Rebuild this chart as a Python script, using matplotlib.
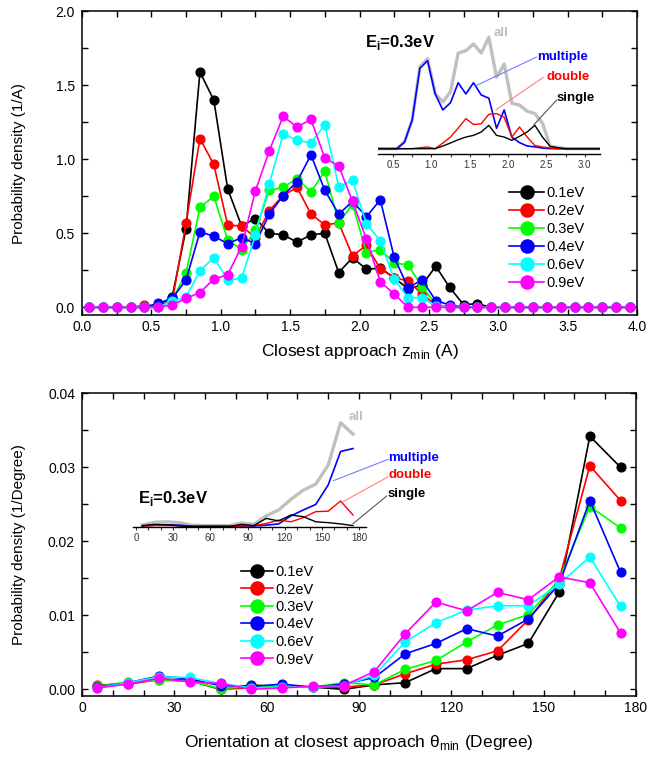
import numpy as np
import matplotlib
matplotlib.use("Agg")
import matplotlib.pyplot as plt
from matplotlib.ticker import MultipleLocator, FormatStrFormatter

plt.rcParams['font.family'] = ['Liberation Sans', 'DejaVu Sans']
plt.rcParams['mathtext.fontset'] = 'custom'
plt.rcParams['mathtext.rm'] = 'Liberation Sans'

W, H = 648, 760

# ---------------- data: top panel (closest approach) ----------------
z_bins = [0.05, 0.15, 0.25, 0.35, 0.45, 0.55, 0.65, 0.75, 0.85, 0.95,
          1.05, 1.15, 1.25, 1.35, 1.45, 1.55, 1.65, 1.75, 1.85, 1.95,
          2.05, 2.15, 2.25, 2.35, 2.45, 2.55, 2.65, 2.75, 2.85, 2.95,
          3.05, 3.15, 3.25, 3.35, 3.45, 3.55, 3.65, 3.75, 3.85, 3.95]
energies = ['0.1eV', '0.2eV', '0.3eV', '0.4eV', '0.6eV', '0.9eV']
colors = ['#000000', '#ff0000', '#00ff00', '#0000ff', '#00ffff', '#ff00ff']

z_01 = [0, 0, 0, 0, 0, 0.01, 0.07, 0.53, 1.59, 1.40, 0.80, 0.55, 0.60, 0.50, 0.49, 0.44, 0.49, 0.50, 0.235, 0.335,
        0.257, 0.265, 0.20, 0.125, 0.15, 0.277, 0.134, 0.018, 0.024, 0, 0, 0, 0, 0, 0, 0, 0, 0, 0, 0]
z_02 = [0, 0, 0, 0, 0.014, 0.01, 0.04, 0.57, 1.14, 0.965, 0.555, 0.55, 0.47, 0.654, 0.755, 0.81, 0.63, 0.557, 0.57, 0.347,
        0.42, 0.26, 0.20, 0.178, 0.09, 0.015, 0, 0, 0, 0, 0, 0, 0, 0, 0, 0, 0, 0, 0, 0]
z_03 = [0, 0, 0, 0, 0, 0, 0.05, 0.23, 0.675, 0.75, 0.455, 0.39, 0.52, 0.79, 0.81, 0.87, 0.78, 0.92, 0.57, 0.695,
        0.37, 0.39, 0.30, 0.286, 0.14, 0.02, 0, 0, 0, 0, 0, 0, 0, 0, 0, 0, 0, 0, 0, 0]
z_04 = [0, 0, 0, 0, 0, 0.027, 0.06, 0.185, 0.51, 0.48, 0.43, 0.47, 0.43, 0.63, 0.755, 0.85, 1.03, 0.79, 0.63, 0.715,
        0.613, 0.726, 0.338, 0.133, 0.185, 0.045, 0.016, 0, 0, 0, 0, 0, 0, 0, 0, 0, 0, 0, 0, 0]
z_06 = [0, 0, 0, 0, 0, 0, 0.04, 0.07, 0.246, 0.336, 0.185, 0.196, 0.49, 0.835, 1.17, 1.13, 1.11, 1.234, 0.816, 0.857,
        0.564, 0.45, 0.19, 0.065, 0.065, 0.01, 0, 0, 0, 0, 0, 0, 0, 0, 0, 0, 0, 0, 0, 0]
z_09 = [0, 0, 0, 0, 0, 0, 0.016, 0.06, 0.10, 0.19, 0.22, 0.41, 0.787, 1.058, 1.29, 1.218, 1.27, 1.008, 0.956, 0.715,
        0.46, 0.173, 0.09, 0, 0, 0, 0, 0, 0, 0, 0, 0, 0, 0, 0, 0, 0, 0, 0, 0]

# inset (Ei = 0.3 eV) decomposition
zi_all = [0, 0, 0, 0, 0, 0, 0.055, 0.237, 0.675, 0.745, 0.455, 0.386, 0.47, 0.79, 0.81, 0.865, 0.79, 0.92, 0.59, 0.70,
          0.375, 0.36, 0.31, 0.29, 0.21, 0.02, 0.01, 0, 0, 0, 0, 0, 0, 0, 0, 0, 0, 0, 0, 0]
zi_multiple = [0, 0, 0, 0, 0, 0, 0.055, 0.237, 0.664, 0.727, 0.452, 0.32, 0.38, 0.545, 0.452, 0.545, 0.444, 0.417, 0.168, 0.32,
               0.094, 0.05, 0.022, 0.015, 0.005, 0, 0, 0, 0, 0, 0, 0, 0, 0, 0, 0, 0, 0, 0, 0]
zi_double = [0, 0, 0, 0, 0, 0, 0, 0, 0.008, 0.014, 0, 0.047, 0.096, 0.17, 0.248, 0.20, 0.206, 0.284, 0.29, 0.26,
             0.096, 0.179, 0.096, 0.027, 0.014, 0.005, 0, 0, 0, 0, 0, 0, 0, 0, 0, 0, 0, 0, 0, 0]
zi_single = [0, 0, 0, 0, 0, 0, 0, 0, 0, 0, 0, 0.022, 0.047, 0.074, 0.096, 0.11, 0.138, 0.193, 0.11, 0.096,
             0.069, 0.102, 0.138, 0.193, 0.096, 0.019, 0.008, 0, 0, 0, 0, 0, 0, 0, 0, 0, 0, 0, 0, 0]

# ---------------- data: bottom panel (orientation) ----------------
theta_bins = [5, 15, 25, 35, 45, 55, 65, 75, 85, 95, 105, 115, 125, 135, 145, 155, 165, 175]
t_01 = [0.0005, 0.0008, 0.0014, 0.0012, 0.0, 0.0006, 0.0003, 0.0003, 0.0, 0.0006, 0.0009, 0.0028, 0.0028, 0.0046, 0.0062, 0.0131, 0.0342, 0.0300]
t_02 = [0.0006, 0.0007, 0.0013, 0.0012, 0.0, 0.0002, 0.0003, 0.0003, 0.0003, 0.0006, 0.0021, 0.0034, 0.0040, 0.0052, 0.0094, 0.0148, 0.0302, 0.0255]
t_03 = [0.0004, 0.0010, 0.0012, 0.0011, 0.0001, 0.0004, 0.0003, 0.0003, 0.0009, 0.0006, 0.0027, 0.0039, 0.0064, 0.0087, 0.0101, 0.0148, 0.0247, 0.0218]
t_04 = [0.0003, 0.0009, 0.0018, 0.0014, 0.0005, 0.0004, 0.0007, 0.0003, 0.0007, 0.0016, 0.0048, 0.0062, 0.0082, 0.0072, 0.0095, 0.0142, 0.0255, 0.0158]
t_06 = [0.0002, 0.0009, 0.0017, 0.0016, 0.0008, 0.0002, 0.0003, 0.0003, 0.0005, 0.0019, 0.0064, 0.0090, 0.0107, 0.0113, 0.0113, 0.0142, 0.0179, 0.0112]
t_09 = [0.0002, 0.0007, 0.0015, 0.0010, 0.0008, 0.0, 0.0002, 0.0004, 0.0005, 0.0024, 0.0075, 0.0118, 0.0106, 0.0131, 0.0121, 0.0152, 0.0144, 0.0076]

ti_all = [0.00055, 0.0012, 0.0013, 0.0011, 0.0005, 0.0004, 0.0004, 0.0004, 0.0010, 0.0007, 0.0027, 0.0041, 0.0066, 0.0088, 0.0102, 0.0147, 0.0247, 0.0220]
ti_multiple = [0.0003, 0.0005, 0.0006, 0.0005, 0.0003, 0.0003, 0.0003, 0.0003, 0.0003, 0.0003, 0.0005, 0.0008, 0.0027, 0.0041, 0.0054, 0.0100, 0.0179, 0.0186]
ti_double = [0.0003, 0.0004, 0.0004, 0.0004, 0.0002, 0.0002, 0.0002, 0.0002, 0.0003, 0.0004, 0.0009, 0.0017, 0.0013, 0.0023, 0.0037, 0.0038, 0.0062, 0.0029]
ti_single = [0.0004, 0.0007, 0.0006, 0.0003, 0.00015, 0.00015, 0.00015, 0.00015, 0.0007, 0.0004, 0.0021, 0.0015, 0.0029, 0.0025, 0.0013, 0.0011, 0.0008, 0.0004]


def fx(px):
    return px / W


def fy(py):
    return 1 - py / H


fig = plt.figure(figsize=(W / 100, H / 100), dpi=100)


def style_main(ax):
    ax.tick_params(which='both', direction='in', top=True, right=True,
                   length=4, width=1.0, labelsize=10)
    ax.tick_params(axis='y', pad=5)
    for s in ax.spines.values():
        s.set_linewidth(1.1)


def style_inset(ax):
    ax.set_facecolor('none')
    for k in ('left', 'right', 'top'):
        ax.spines[k].set_visible(False)
    ax.spines['bottom'].set_linewidth(1.0)
    ax.set_yticks([])
    ax.tick_params(which='both', direction='out', length=2.5, width=0.8,
                   labelsize=7, colors='#333333', pad=1.5)


# ================= TOP PANEL =================
L1, R1 = 82, 637
ax1 = fig.add_axes([fx(L1), fy(315), fx(R1 - L1), (315 - 11.3) / H])
for ys, c, lab in zip([z_01, z_02, z_03, z_04, z_06, z_09], colors, energies):
    ax1.plot(z_bins, ys, '-o', color=c, lw=1.2, ms=6.3, label=lab)
ax1.set_xlim(0, 4.0)
ax1.set_ylim(-0.052, 2.0)
ax1.xaxis.set_major_locator(MultipleLocator(0.5))
ax1.xaxis.set_minor_locator(MultipleLocator(0.25))
ax1.yaxis.set_major_locator(MultipleLocator(0.5))
ax1.yaxis.set_minor_locator(MultipleLocator(0.25))
ax1.xaxis.set_major_formatter(FormatStrFormatter('%.1f'))
ax1.yaxis.set_major_formatter(FormatStrFormatter('%.1f'))
style_main(ax1)
ax1.set_xlabel(r'Closest approach z$_\mathdefault{min}$ (A)', fontsize=12.5, labelpad=6)
ax1.set_ylabel('Probability density (1/A)', fontsize=11)
ax1.yaxis.set_label_coords((26.5 - L1) / (R1 - L1), 0.5)
leg1 = ax1.legend(loc='upper left', bbox_to_anchor=(fx(509), fy(186)),
                  bbox_transform=fig.transFigure, frameon=False, fontsize=10.5,
                  handlelength=2.4, handletextpad=0.15, labelspacing=0.27,
                  borderpad=0, borderaxespad=0, markerscale=1.5)

# inset top
axi1 = fig.add_axes([fx(377.7), fy(154), fx(600 - 377.7), (154 - 25) / H])
axi1.plot(z_bins, zi_all, color='#c0c0c0', lw=2.4)
axi1.plot(z_bins, zi_multiple, color='#0000ff', lw=1.2)
axi1.plot(z_bins, zi_double, color='#ff0000', lw=1.0)
axi1.plot(z_bins, zi_single, color='#000000', lw=1.0)
axi1.set_xlim(0.3, 3.2)
axi1.set_ylim(-0.044, 1.022)
axi1.xaxis.set_major_locator(MultipleLocator(0.5))
axi1.xaxis.set_minor_locator(MultipleLocator(0.25))
axi1.xaxis.set_major_formatter(FormatStrFormatter('%.1f'))
style_inset(axi1)

ann_top = [('multiple', '#0000ff', '#6f7fff', (1.58, 0.52), (536.7, 57.0), (536.7, 57.3)),
           ('double', '#ff0000', '#ff8080', (1.84, 0.32), (543.3, 77.3), (546.7, 77.3)),
           ('single', '#000000', '#555555', (2.335, 0.196), (556.7, 100.0), (557.0, 98.3))]
for txt, tc, lc, xy, lend, tpos in ann_top:
    axi1.annotate('', xy=xy, xycoords='data', xytext=(fx(lend[0]), fy(lend[1])),
                  textcoords='figure fraction',
                  arrowprops=dict(arrowstyle='-', color=lc, lw=0.8, shrinkA=0, shrinkB=0))
    fig.text(fx(tpos[0]), fy(tpos[1]), txt, color=tc, fontsize=9.5, fontweight='bold',
             ha='left', va='center')
fig.text(fx(494), fy(33.3), 'all', color='#c0c0c0', fontsize=9.5, fontweight='bold',
         ha='left', va='center')
fig.text(fx(365), fy(43), r'E$_\mathdefault{i}$=0.3eV', color='black', fontsize=12,
         fontweight='bold', ha='left', va='center')

# ================= BOTTOM PANEL =================
L2, R2 = 82, 636
ax2 = fig.add_axes([fx(L2), fy(696), fx(R2 - L2), (696 - 393.3) / H])
for ys, c, lab in zip([t_01, t_02, t_03, t_04, t_06, t_09], colors, energies):
    ax2.plot(theta_bins, ys, '-o', color=c, lw=1.2, ms=6.3, label=lab)
ax2.set_xlim(0, 180)
ax2.set_ylim(-0.0009, 0.04)
ax2.xaxis.set_major_locator(MultipleLocator(30))
ax2.xaxis.set_minor_locator(MultipleLocator(10))
ax2.yaxis.set_major_locator(MultipleLocator(0.01))
ax2.yaxis.set_minor_locator(MultipleLocator(0.005))
ax2.yaxis.set_major_formatter(FormatStrFormatter('%.2f'))
style_main(ax2)
ax2.set_xlabel('Orientation at closest approach θ$_\\mathdefault{min}$ (Degree)', fontsize=12.5, labelpad=13)
ax2.set_ylabel('Probability density (1/Degree)', fontsize=11)
ax2.yaxis.set_label_coords((26.5 - L2) / (R2 - L2), 0.5)
leg2 = ax2.legend(loc='upper left', bbox_to_anchor=(fx(241), fy(565)),
                  bbox_transform=fig.transFigure, frameon=False, fontsize=10.5,
                  handlelength=2.2, handletextpad=0.15, labelspacing=0.24,
                  borderpad=0, borderaxespad=0, markerscale=1.5)

# inset bottom
axi2 = fig.add_axes([fx(133.3), fy(527.3), fx(366 - 133.3), (527.3 - 410) / H])
axi2.plot(theta_bins, ti_all, color='#c0c0c0', lw=2.4)
axi2.plot(theta_bins, ti_multiple, color='#0000ff', lw=1.2)
axi2.plot(theta_bins, ti_double, color='#ff0000', lw=1.0)
axi2.plot(theta_bins, ti_single, color='#000000', lw=1.0)
axi2.set_xlim(-2.2, 185.5)
axi2.set_ylim(0, 0.0277)
axi2.xaxis.set_major_locator(MultipleLocator(30))
axi2.xaxis.set_minor_locator(MultipleLocator(10))
style_inset(axi2)

ann_bot = [('multiple', '#0000ff', '#6f7fff', (159.1, 0.011), (388.3, 459.3), (388.3, 457.7)),
           ('double', '#ff0000', '#ff8080', (166.7, 0.006), (388.3, 476.7), (388.3, 475.3)),
           ('single', '#000000', '#555555', (174.8, 0.0008), (386.7, 496.0), (388.0, 494.3))]
for txt, tc, lc, xy, lend, tpos in ann_bot:
    axi2.annotate('', xy=xy, xycoords='data', xytext=(fx(lend[0]), fy(lend[1])),
                  textcoords='figure fraction',
                  arrowprops=dict(arrowstyle='-', color=lc, lw=0.8, shrinkA=0, shrinkB=0))
    fig.text(fx(tpos[0]), fy(tpos[1]), txt, color=tc, fontsize=9.5, fontweight='bold',
             ha='left', va='center')
fig.text(fx(349), fy(416.7), 'all', color='#c0c0c0', fontsize=9.5, fontweight='bold',
         ha='left', va='center')
fig.text(fx(138), fy(499), r'E$_\mathdefault{i}$=0.3eV', color='black', fontsize=12,
         fontweight='bold', ha='left', va='center')

fig.savefig('out.png', dpi=100)
